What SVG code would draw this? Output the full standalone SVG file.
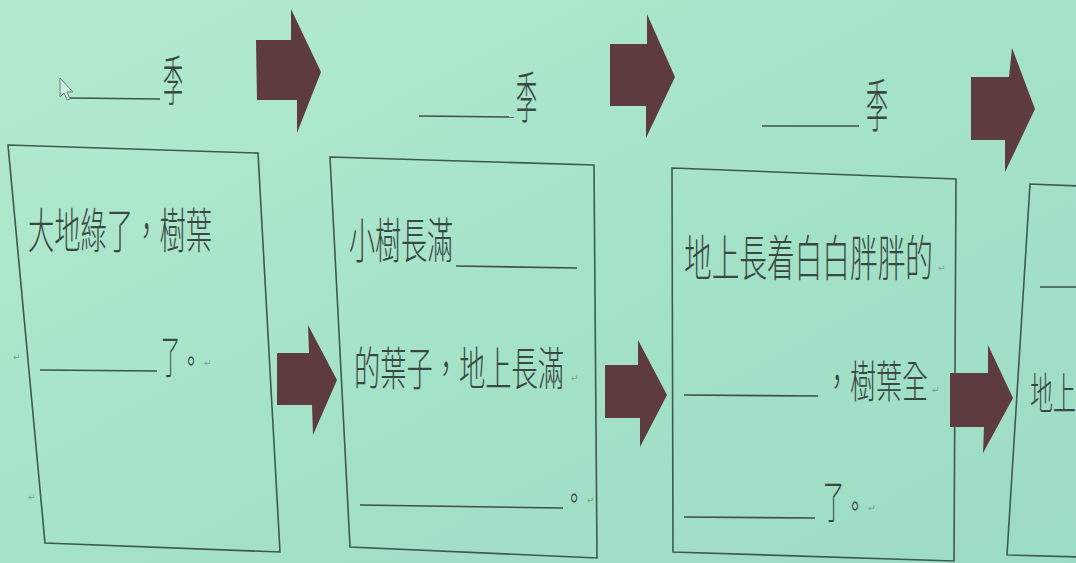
<svg xmlns="http://www.w3.org/2000/svg" width="1076" height="563" viewBox="0 0 1076 563">
<defs>
<linearGradient id="bg" x1="0" y1="0" x2="1" y2="1">
<stop offset="0" stop-color="#b3eacf"/>
<stop offset="0.5" stop-color="#a5e3c8"/>
<stop offset="1" stop-color="#9ddcc4"/>
</linearGradient>
<style>
.box{fill:none;stroke:#3d5a4f;stroke-width:1.6}
.arrow{fill:#5e3b3e}
.blank{stroke:#3d5148;stroke-width:1.6}
.t{font-family:"Noto Sans CJK TC","Noto Sans CJK JP",sans-serif;fill:#3a4843;font-weight:300}
.p{font-family:"Noto Sans CJK TC","Noto Sans CJK JP",sans-serif;fill:#3a4843;font-size:30px}
.mark{font-family:"DejaVu Sans",sans-serif;fill:#7c9a8f;font-size:9px}
</style>
</defs>
<rect width="1076" height="563" fill="url(#bg)"/>

<g id="cursor">
<polygon points="60,78 60,97 64,93 67,100 70,99 67,92 73,92" fill="#c9eedf" stroke="#6d807a" stroke-width="1"/>
</g>

<g id="season1">
<line class="blank" x1="70" y1="98" x2="160" y2="99"/>
<text class="t" x="163" y="101" font-size="54" textLength="20" lengthAdjust="spacingAndGlyphs">季</text>
</g>
<g id="season2">
<line class="blank" x1="419" y1="116" x2="514" y2="117"/>
<text class="t" x="516" y="118" font-size="56" textLength="21" lengthAdjust="spacingAndGlyphs">季</text>
</g>
<g id="season3">
<line class="blank" x1="762" y1="126" x2="859" y2="126"/>
<text class="t" x="866" y="127" font-size="58" textLength="22" lengthAdjust="spacingAndGlyphs">季</text>
</g>

<g id="box1">
<polygon class="box" points="8,145 258,153 280,552 45,543"/>
<text class="t" x="28" y="248" font-size="48" textLength="184" lengthAdjust="spacingAndGlyphs">大地綠了，樹葉</text>
<line class="blank" x1="40" y1="370" x2="157" y2="371"/>
<text class="t" x="161" y="373" font-size="46" textLength="19" lengthAdjust="spacingAndGlyphs">了</text>
<text class="p" x="181" y="372" textLength="20" lengthAdjust="spacingAndGlyphs">。</text>
<text class="mark" x="204" y="366">↵</text>
<text class="mark" x="13" y="360">↵</text>
<text class="mark" x="28" y="500">↵</text>
</g>

<g id="box2">
<polygon class="box" points="330,157 594,165 597,558 350,547"/>
<text class="t" x="349" y="258" font-size="48" textLength="104" lengthAdjust="spacingAndGlyphs">小樹長滿</text>
<line class="blank" x1="456" y1="266" x2="577" y2="268"/>
<text class="t" x="354" y="385" font-size="46" textLength="210" lengthAdjust="spacingAndGlyphs">的葉子，地上長滿</text>
<text class="mark" x="571" y="381">↵</text>
<line class="blank" x1="360" y1="505" x2="563" y2="508"/>
<text class="p" x="564" y="509" textLength="20" lengthAdjust="spacingAndGlyphs">。</text>
<text class="mark" x="587" y="503">↵</text>
</g>

<g id="box3">
<polygon class="box" points="672,168 956,179 954,561 673,552"/>
<text class="t" x="684" y="276" font-size="49" textLength="249" lengthAdjust="spacingAndGlyphs">地上長着白白胖胖的</text>
<text class="mark" x="938" y="271">↵</text>
<line class="blank" x1="684" y1="395" x2="818" y2="396"/>
<text class="t" x="824" y="398" font-size="44" textLength="104" lengthAdjust="spacingAndGlyphs">，樹葉全</text>
<text class="mark" x="932" y="393">↵</text>
<line class="blank" x1="684" y1="517" x2="815" y2="518"/>
<text class="t" x="823" y="518" font-size="46" textLength="21" lengthAdjust="spacingAndGlyphs">了</text>
<text class="p" x="845" y="517" textLength="20" lengthAdjust="spacingAndGlyphs">。</text>
<text class="mark" x="868" y="511">↵</text>
</g>

<g id="box4">
<polyline class="box" points="1080,186 1030,184 1007,555 1080,557"/>
<line class="blank" x1="1040" y1="287" x2="1080" y2="287"/>
<text class="t" x="1030" y="410" font-size="44" textLength="46" lengthAdjust="spacingAndGlyphs">地上</text>
</g>

<g id="connectors">
<polygon class="arrow" points="256,40 291,40 291,9 321,72 297,133 297,100 257,100" fill="#553536"/>
<polygon class="arrow" points="610,44 647,44 647,14 675,77 646,138 646,106 610,106" fill="#583639"/>
<polygon class="arrow" points="971,77 1009,77 1012,48 1035,109 1005,172 1005,140 971,140"/>
<polygon class="arrow" points="277,353 309,353 308,325 337,380 313,435 312,405 277,405"/>
<polygon class="arrow" points="605,365 638,365 638,340 667,395 640,447 640,418 605,418"/>
<polygon class="arrow" points="950,373 988,373 988,345 1013,398 983,453 984,427 950,427"/>
</g>
</svg>
